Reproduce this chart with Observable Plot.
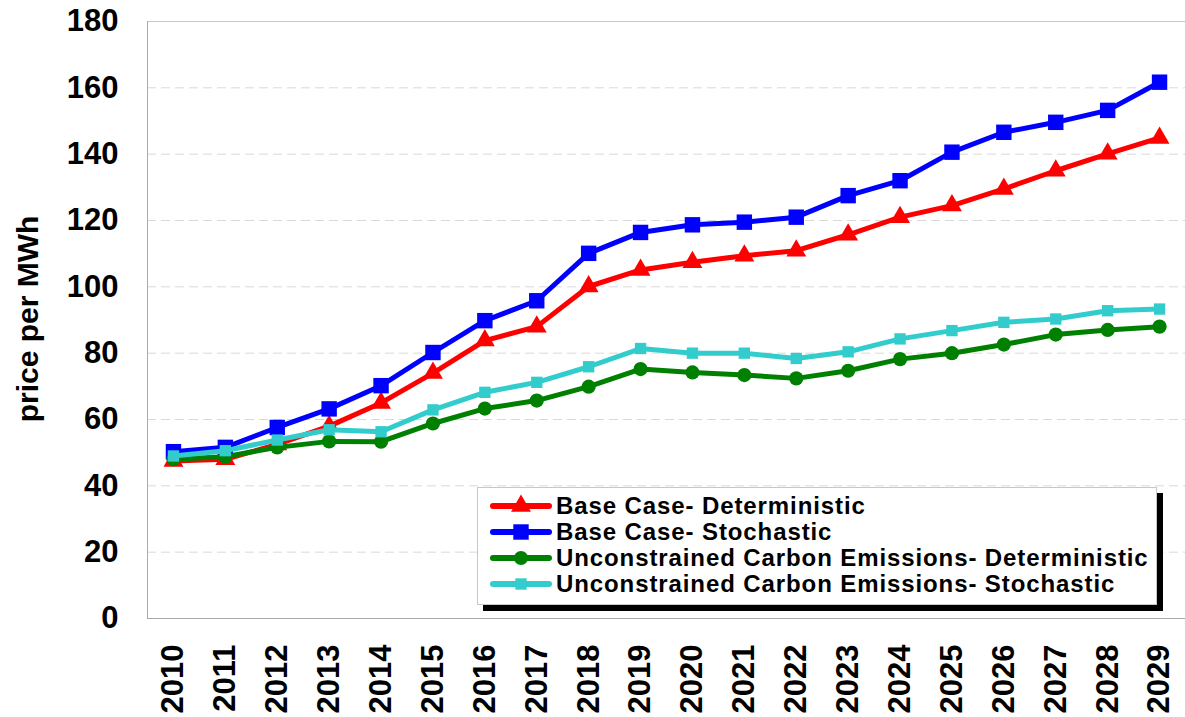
<!DOCTYPE html>
<html>
<head>
<meta charset="utf-8">
<script src="https://cdn.jsdelivr.net/npm/d3@7"></script>
<script src="https://cdn.jsdelivr.net/npm/@observablehq/plot@0.6"></script>
<style>
  html, body { margin: 0; padding: 0; background: #fff; }
  #wrap { position: relative; width: 1185px; height: 717px; font-family: "Liberation Sans", Arial, sans-serif; }
  #legend { position: absolute; left: 477px; top: 487px; width: 680px; height: 118px; box-sizing: border-box;
    border: 1px solid #c8c8c8; background: #fff; box-shadow: 6px 6px 0 #000; padding: 5px 0 0 12px; }
  .row { display: flex; align-items: center; height: 26px; }
  .row span { margin-left: 4px; font-weight: bold; font-size: 24px; letter-spacing: 0.9px; color: #000; white-space: nowrap; }
</style>
</head>
<body>
<div id="wrap"></div>
<script>
const years = ["2010","2011","2012","2013","2014","2015","2016","2017","2018","2019","2020","2021","2022","2023","2024","2025","2026","2027","2028","2029"];
const baseDeterministic = [47.5, 48, 52.5, 58, 65, 74, 83.8, 88, 100.1, 105.1, 107.4, 109.4, 110.9, 115.7, 121, 124.5, 129.5, 135, 140.1, 144.9];
const baseStochastic = [50.3, 51.6, 57.6, 63.2, 70.2, 80.2, 89.8, 95.8, 110.1, 116.4, 118.7, 119.5, 121, 127.5, 132, 140.6, 146.6, 149.6, 153.2, 161.7];
const unconDeterministic = [48, 48.8, 51.6, 53.4, 53.3, 58.8, 63.3, 65.7, 69.9, 75.2, 74.2, 73.4, 72.4, 74.7, 78.2, 80, 82.6, 85.6, 87, 88];
const unconStochastic = [49, 50.6, 53.8, 56.9, 56.3, 62.9, 68.2, 71.2, 75.9, 81.4, 80, 80, 78.4, 80.4, 84.3, 86.8, 89.3, 90.3, 92.8, 93.3];
const seriesNames = ["Base Case- Deterministic", "Base Case- Stochastic", "Unconstrained Carbon Emissions- Deterministic", "Unconstrained Carbon Emissions- Stochastic"];
const yTicks = [0, 20, 40, 60, 80, 100, 120, 140, 160, 180];
const yLabel = "price per MWh";

const seriesValues = [baseDeterministic, baseStochastic, unconDeterministic, unconStochastic];
const styles = [
  {color: "#ff0000", symbol: "triangle", r: 7.4},
  {color: "#0000ff", symbol: "square", r: 8.7},
  {color: "#008000", symbol: "circle", r: 7.1},
  {color: "#33cccc", symbol: "square", r: 6.4}
];

const marks = [
  Plot.gridY(yTicks.filter(t => t > 0 && t < 180), {stroke: "#d9d9d9", strokeOpacity: 1, strokeDasharray: "9,5"}),
  Plot.ruleY([180], {stroke: "#c8c8c8"}),
  Plot.ruleY([0], {stroke: "#aaaaaa"}),
  Plot.frame({anchor: "left", stroke: "#aaaaaa"}),
  Plot.axisY(yTicks, {tickSize: 0, tickPadding: 29, fontSize: 31, fontWeight: "bold", label: null}),
  Plot.axisX({tickSize: 0, tickPadding: 26, tickRotate: -90, fontSize: 31, fontWeight: "bold", label: null})
];
seriesValues.forEach((vals, i) => {
  const rows = years.map((yr, j) => ({year: yr, value: vals[j], series: seriesNames[i]}));
  marks.push(Plot.line(rows, {x: "year", y: "value", stroke: styles[i].color, strokeWidth: 5, strokeLinejoin: "round"}));
  marks.push(Plot.dot(rows, {x: "year", y: "value", symbol: () => styles[i].symbol, r: styles[i].r, fill: styles[i].color, stroke: "none"}));
});

const chart = Plot.plot({
  width: 1185, height: 717,
  marginTop: 21, marginBottom: 99, marginLeft: 147, marginRight: 0,
  style: {fontFamily: "'Liberation Sans', Arial, sans-serif", fontWeight: "bold", fontSize: "31px", color: "#000", background: "#fff", overflow: "visible"},
  x: {type: "point", domain: years, padding: 0.5, round: false, label: null},
  y: {domain: [0, 180], label: null},
  symbol: {type: "identity"},
  marks
});

d3.select(chart).append("text")
  .attr("transform", "translate(27,319) rotate(-90)")
  .attr("text-anchor", "middle")
  .attr("dominant-baseline", "central")
  .attr("font-size", 30)
  .attr("font-weight", "bold")
  .attr("fill", "#000")
  .text(yLabel);

const wrap = document.getElementById("wrap");
wrap.appendChild(chart);

const legend = document.createElement("div");
legend.id = "legend";
seriesNames.forEach((name, i) => {
  const row = document.createElement("div");
  row.className = "row";
  const sw = d3.create("svg").attr("width", 62).attr("height", 26);
  sw.append("line").attr("x1", 3).attr("x2", 59).attr("y1", 13).attr("y2", 13)
    .attr("stroke", styles[i].color).attr("stroke-width", 6).attr("stroke-linecap", "round");
  const symType = {triangle: d3.symbolTriangle, square: d3.symbolSquare, circle: d3.symbolCircle}[styles[i].symbol];
  sw.append("path").attr("transform", "translate(31,13)")
    .attr("d", d3.symbol(symType, Math.PI * styles[i].r * styles[i].r)())
    .attr("fill", styles[i].color);
  row.appendChild(sw.node());
  const t = document.createElement("span");
  t.textContent = name;
  row.appendChild(t);
  legend.appendChild(row);
});
wrap.appendChild(legend);
</script>
</body>
</html>
